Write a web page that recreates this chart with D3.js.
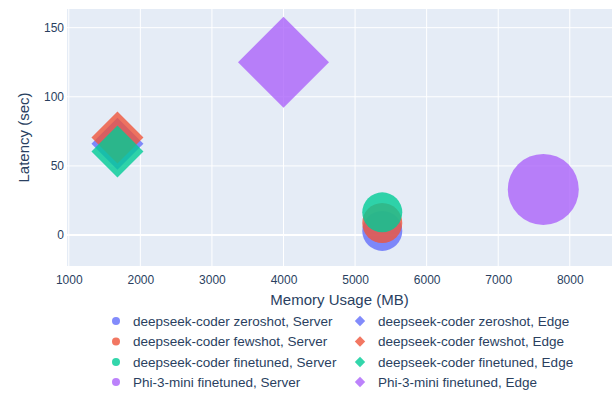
<!DOCTYPE html>
<html>
<head>
<meta charset="utf-8">
<script src="https://cdn.jsdelivr.net/npm/d3@7"></script>
<style>
  html, body { margin: 0; padding: 0; background: #fff; }
  svg { display: block; font-family: "Liberation Sans", Arial, sans-serif; }
</style>
</head>
<body>
<div id="chart"></div>
<script>
// trace order as in the legend (row by row)
const seriesNames = [
  'deepseek-coder zeroshot, Server', 'deepseek-coder zeroshot, Edge',
  'deepseek-coder fewshot, Server', 'deepseek-coder fewshot, Edge',
  'deepseek-coder finetuned, Server', 'deepseek-coder finetuned, Edge',
  'Phi-3-mini finetuned, Server', 'Phi-3-mini finetuned, Edge'
];
const memoryMB  = [5380, 1680, 5380, 1680, 5380, 1680, 7630, 4000];
const latency   = [3, 66, 8.7, 70.5, 16.4, 60.5, 33, 125];
const markerSize = [40, 40, 40, 40, 40, 40, 71, 70];
const deployment = ['Server', 'Edge', 'Server', 'Edge', 'Server', 'Edge', 'Server', 'Edge'];
const colors = ['#636efa', '#636efa', '#EF553B', '#EF553B', '#00cc96', '#00cc96', '#ab63fa', '#ab63fa'];

const xTicks = [1000, 2000, 3000, 4000, 5000, 6000, 7000, 8000];
const yTicks = [0, 50, 100, 150];

const width = 612, height = 396;
const margin = { top: 9, right: 0, bottom: 130, left: 67 };
const textColor = '#2a3f5f';

const svg = d3.select('#chart').append('svg')
  .attr('width', width)
  .attr('height', height);

const x = d3.scaleLinear()
  .domain([975, 8590])
  .range([margin.left, width - margin.right]);

const y = d3.scaleLinear()
  .domain([-22.4, 163.5])
  .range([height - margin.bottom, margin.top]);

// plot background
svg.append('rect')
  .attr('x', margin.left)
  .attr('y', margin.top)
  .attr('width', width - margin.right - margin.left)
  .attr('height', height - margin.bottom - margin.top)
  .attr('fill', '#e5ecf6');

// grid
const grid = svg.append('g').attr('class', 'grid');
grid.selectAll('.vgrid')
  .data(xTicks)
  .enter().append('line')
  .attr('x1', d => x(d)).attr('x2', d => x(d))
  .attr('y1', margin.top).attr('y2', height - margin.bottom)
  .attr('stroke', '#fff').attr('stroke-width', 1);

grid.selectAll('.hgrid')
  .data(yTicks)
  .enter().append('line')
  .attr('x1', margin.left).attr('x2', width - margin.right)
  .attr('y1', d => y(d)).attr('y2', d => y(d))
  .attr('stroke', '#fff')
  .attr('stroke-width', d => d === 0 ? 2 : 1);

// axes (labels only)
const xAxis = svg.append('g')
  .attr('transform', `translate(0, ${height - margin.bottom})`)
  .call(d3.axisBottom(x).tickValues(xTicks).tickSize(0).tickPadding(9).tickFormat(d3.format('d')));
xAxis.select('.domain').remove();
xAxis.selectAll('text')
  .style('font-size', '12px')
  .style('font-family', '"Liberation Sans", Arial, sans-serif')
  .attr('fill', textColor);

const yAxis = svg.append('g')
  .attr('transform', `translate(${margin.left}, 0)`)
  .call(d3.axisLeft(y).tickValues(yTicks).tickSize(0).tickPadding(3));
yAxis.select('.domain').remove();
yAxis.selectAll('text')
  .style('font-size', '12px')
  .style('font-family', '"Liberation Sans", Arial, sans-serif')
  .attr('fill', textColor);

// axis titles
svg.append('text')
  .attr('x', (margin.left + width - margin.right) / 2)
  .attr('y', 305)
  .attr('text-anchor', 'middle')
  .attr('fill', textColor)
  .style('font-size', '15px')
  .text('Memory Usage (MB)');

svg.append('text')
  .attr('transform', `translate(29, ${(margin.top + height - margin.bottom) / 2}) rotate(-90)`)
  .attr('text-anchor', 'middle')
  .attr('fill', textColor)
  .style('font-size', '15px')
  .text('Latency (sec)');

// markers: circle for Server, diamond for Edge (plotly-like sizing)
function markerPath(kind, size) {
  if (kind === 'Server') {
    const r = size / 2;
    return `M${r},0A${r},${r} 0 1,1 0,${-r}A${r},${r} 0 0,1 ${r},0Z`;
  }
  const rd = size / 2 * 1.3;
  return `M${rd},0L0,${rd}L${-rd},0L0,${-rd}Z`;
}

const points = seriesNames.map((name, i) => ({
  name, mem: memoryMB[i], lat: latency[i], size: markerSize[i],
  kind: deployment[i], color: colors[i]
}));

const clipId = 'plot-clip';
svg.append('clipPath').attr('id', clipId)
  .append('rect')
  .attr('x', margin.left).attr('y', margin.top)
  .attr('width', width - margin.right - margin.left)
  .attr('height', height - margin.bottom - margin.top);

svg.append('g')
  .attr('clip-path', `url(#${clipId})`)
  .selectAll('.pt')
  .data(points)
  .enter().append('path')
  .attr('class', 'pt')
  .attr('transform', d => `translate(${x(d.mem)}, ${y(d.lat)})`)
  .attr('d', d => markerPath(d.kind, d.size))
  .attr('fill', d => d.color)
  .attr('fill-opacity', 0.8);

// legend, two columns
const legendCols = [116, 360];
const legendRows = [321, 341.5, 362, 382];
const legend = svg.append('g').attr('class', 'legend');
const items = legend.selectAll('.item')
  .data(points)
  .enter().append('g')
  .attr('class', 'item')
  .attr('transform', (d, i) => `translate(${legendCols[i % 2]}, ${legendRows[Math.floor(i / 2)]})`);

items.append('path')
  .attr('d', d => markerPath(d.kind, 8))
  .attr('fill', d => d.color)
  .attr('fill-opacity', 0.8);

items.append('text')
  .attr('x', (d, i) => i % 2 === 0 ? 17 : 18)
  .attr('dy', '0.35em')
  .attr('fill', textColor)
  .style('font-size', '13.5px')
  .text(d => d.name);
</script>
</body>
</html>
